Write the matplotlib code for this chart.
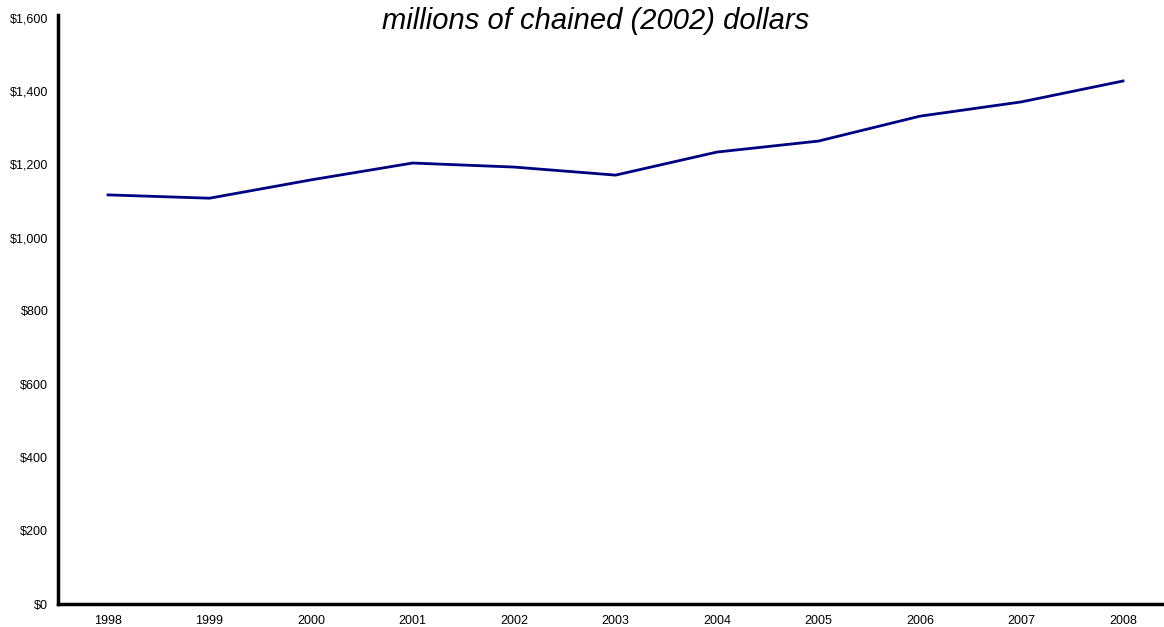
import matplotlib
matplotlib.use("Agg")
from matplotlib import pyplot as plt
from matplotlib.ticker import FuncFormatter

plt.rcParams["font.family"] = ["Liberation Sans", "DejaVu Sans"]

years = [1998, 1999, 2000, 2001, 2002, 2003, 2004, 2005, 2006, 2007, 2008]
values = [1117, 1108, 1158, 1204, 1193, 1171, 1234, 1264, 1332, 1371, 1428]
y_ticks = [0, 200, 400, 600, 800, 1000, 1200, 1400, 1600]

fig = plt.figure(figsize=(11.64, 6.27), dpi=100)
ax = fig.add_axes([58 / 1164, 23 / 627, 1 - 58 / 1164, (604 - 18) / 627])

ax.plot(years, values, color="#000080", linewidth=2.0)

ax.set_xlim(1997.507, 2008.404)
ax.set_ylim(0, 1600)
ax.set_xticks(years)
ax.set_yticks(y_ticks)
ax.yaxis.set_major_formatter(FuncFormatter(lambda v, p: "${:,.0f}".format(v)))
ax.tick_params(length=0, labelsize=9, pad=7)
ax.tick_params(axis="x", pad=8)

for side in ["top", "right"]:
    ax.spines[side].set_visible(False)
ax.spines["left"].set_linewidth(2.5)
ax.spines["bottom"].set_linewidth(2.5)
ax.spines["left"].set_bounds(0, 1607)
ax.spines["left"].set_clip_on(False)

fig.text(596 / 1164, 1 - 21 / 627, "millions of chained (2002) dollars",
         fontsize=21, style="italic", ha="center", va="center")

plt.savefig("out.png", dpi=100)
